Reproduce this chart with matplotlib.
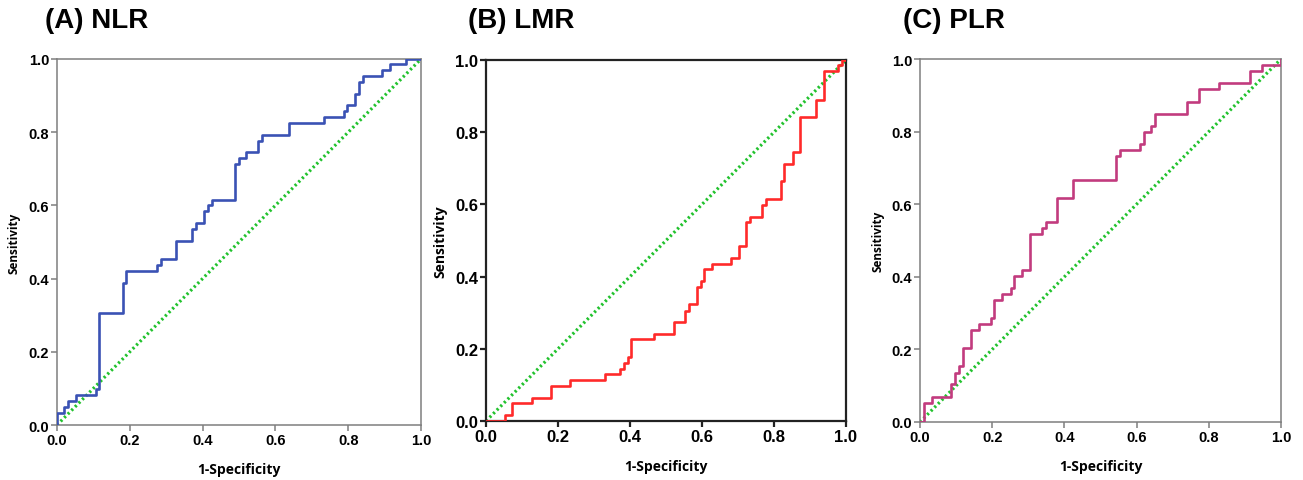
import matplotlib.pyplot as plt

# ROC curve corner points (1-specificity, sensitivity)
nlr_fpr = [0, 0, 0.020, 0.031, 0.053, 0.108, 0.115, 0.180, 0.190, 0.276, 0.286,
           0.328, 0.371, 0.382, 0.404, 0.414, 0.425, 0.489, 0.500, 0.520, 0.553,
           0.564, 0.638, 0.734, 0.788, 0.798, 0.819, 0.829, 0.840, 0.893, 0.916,
           0.958, 1.0]
nlr_tpr = [0, 0.034, 0.050, 0.066, 0.081, 0.098, 0.307, 0.388, 0.421, 0.438, 0.453,
           0.502, 0.536, 0.552, 0.584, 0.600, 0.615, 0.713, 0.729, 0.745, 0.776,
           0.792, 0.824, 0.841, 0.857, 0.873, 0.904, 0.937, 0.953, 0.969, 0.985,
           1.0, 1.0]

lmr_fpr = [0, 0.052, 0.073, 0.127, 0.180, 0.234, 0.331, 0.373, 0.384, 0.394, 0.404,
           0.468, 0.522, 0.553, 0.564, 0.586, 0.596, 0.606, 0.628, 0.681, 0.702,
           0.723, 0.734, 0.766, 0.777, 0.819, 0.829, 0.852, 0.873, 0.916, 0.938,
           0.979, 0.990, 1.0]
lmr_tpr = [0, 0.017, 0.049, 0.065, 0.097, 0.114, 0.129, 0.145, 0.162, 0.177, 0.226,
           0.242, 0.274, 0.306, 0.323, 0.372, 0.388, 0.421, 0.436, 0.452, 0.485,
           0.550, 0.566, 0.598, 0.615, 0.664, 0.712, 0.744, 0.841, 0.889, 0.970,
           0.985, 1.0, 1.0]

plr_fpr = [0, 0.010, 0.032, 0.087, 0.098, 0.108, 0.119, 0.142, 0.163, 0.196, 0.206,
           0.228, 0.251, 0.261, 0.283, 0.305, 0.337, 0.348, 0.380, 0.424, 0.543,
           0.554, 0.609, 0.620, 0.641, 0.652, 0.740, 0.772, 0.827, 0.913, 0.946, 1.0]
plr_tpr = [0, 0.053, 0.070, 0.104, 0.136, 0.153, 0.203, 0.253, 0.269, 0.286, 0.335,
           0.352, 0.369, 0.403, 0.419, 0.518, 0.535, 0.552, 0.618, 0.667, 0.733,
           0.750, 0.767, 0.800, 0.816, 0.849, 0.882, 0.916, 0.934, 0.967, 0.983, 1.0]

ref_line = [0, 1]
ticks = [0.0, 0.2, 0.4, 0.6, 0.8, 1.0]
tick_labels = ["0.0", "0.2", "0.4", "0.6", "0.8", "1.0"]

# title, x, y, colour, axes box in px, spine colour, spine width, tick size, ylabel size/pad, title x
panels = [
    ("(A) NLR", nlr_fpr, nlr_tpr, "#3a52b4", [57, 60, 421, 426], "#7f7f7f", 1.1, 10.5, 8.5, 6, 0.0345),
    ("(B) LMR", lmr_fpr, lmr_tpr, "#ff2a2a", [486, 61, 846, 422], "#222222", 1.6, 12, 10, 6, 0.359),
    ("(C) PLR", plr_fpr, plr_tpr, "#c23b7e", [920, 60, 1281, 423], "#7f7f7f", 1.1, 10.5, 8.5, 5, 0.693),
]

W, H = 1303, 481
fig = plt.figure(figsize=(W / 100, H / 100), dpi=100)

for title, fpr, tpr, color, box, spine_col, spine_w, tick_fs, yl_fs, yl_pad, tx in panels:
    x0, y0, x1, y1 = box
    ax = fig.add_axes([x0 / W, 1 - y1 / H, (x1 - x0) / W, (y1 - y0) / H])
    ax.plot(ref_line, ref_line, color="#22c22e", linewidth=2.3,
            linestyle=(0, (0.7, 0.9)), zorder=2)
    ax.plot(fpr, tpr, drawstyle="steps-post", color=color, linewidth=1.9, zorder=3)
    ax.set_xlim(0, 1)
    ax.set_ylim(0, 1)
    ax.set_xticks(ticks)
    ax.set_yticks(ticks)
    ax.set_xticklabels(tick_labels, family="Liberation Sans", fontweight="bold", fontsize=tick_fs)
    ax.set_yticklabels(tick_labels, family="Liberation Sans", fontweight="bold", fontsize=tick_fs)
    ax.tick_params(direction="out", length=4, width=spine_w, color=spine_col, pad=1.5)
    for s in ax.spines.values():
        s.set_color(spine_col)
        s.set_linewidth(spine_w)
    ax.set_xlabel("1-Specificity", family="Open Sans", fontweight="bold", fontsize=10, labelpad=11)
    ax.set_ylabel("Sensitivity", family="Open Sans", fontweight="bold", fontsize=yl_fs, labelpad=yl_pad)
    fig.text(tx, 1 - 21 / H, title, family="Liberation Sans", fontweight="bold",
             fontsize=20, ha="left", va="center")

fig.savefig("out.png", dpi=100)
